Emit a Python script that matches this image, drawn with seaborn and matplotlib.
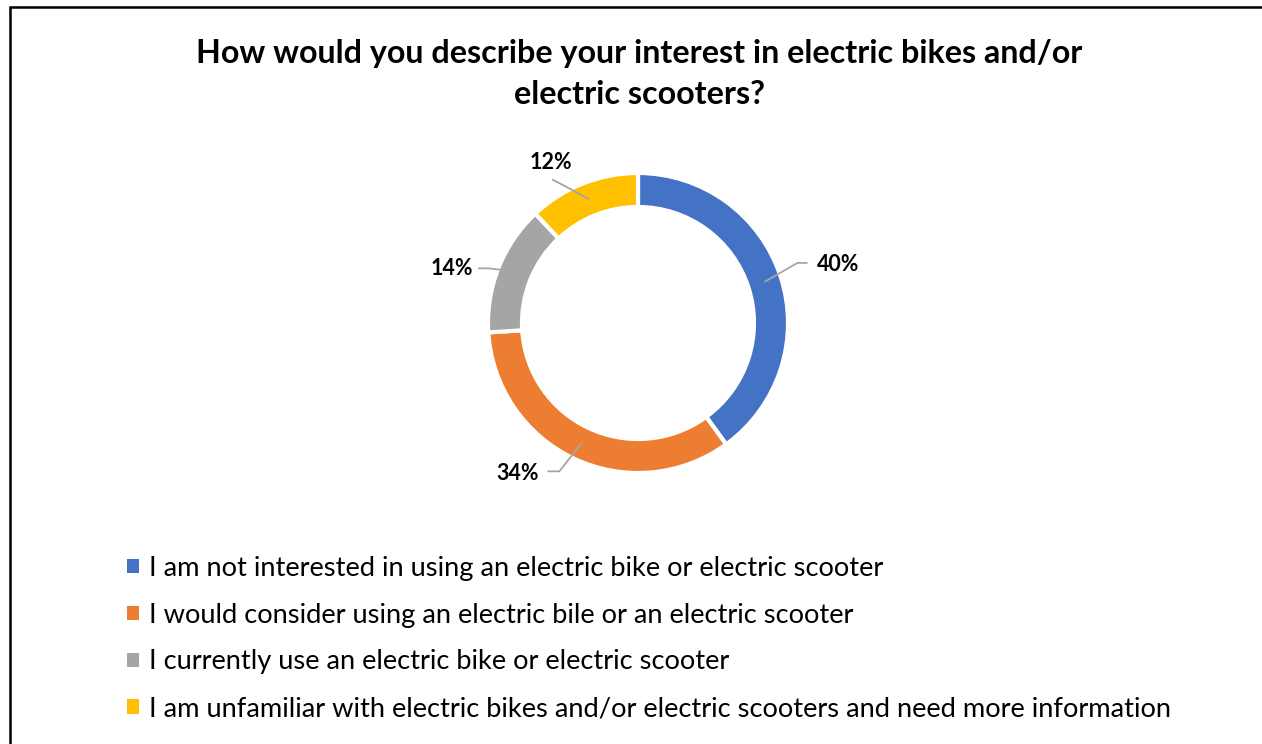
import numpy as np
import matplotlib
matplotlib.use("Agg")
import matplotlib.pyplot as plt
import seaborn as sns

# Survey responses
categories = [
    "I am not interested in using an electric bike or electric scooter",
    "I would consider using an electric bile or an electric scooter",
    "I currently use an electric bike or electric scooter",
    "I am unfamiliar with electric bikes and/or electric scooters and need more information",
]
shares = [40, 34, 14, 12]
pct_labels = ["40%", "34%", "14%", "12%"]
title = "How would you describe your interest in electric bikes and/or\nelectric scooters?"

sns.set_theme(style="white")
plt.rcParams["font.family"] = ["Lato", "DejaVu Sans"]
palette = sns.color_palette(["#4472C4", "#ED7D31", "#A5A5A5", "#FFC000"])

W, H = 1262, 744
fig = plt.figure(figsize=(W / 100, H / 100), dpi=100)
ax = fig.add_axes([0, 0, 1, 1])

# Donut in pixel-like coordinates (y measured upward)
cx, cy = 638, H - 323
R, ring = 150, 34
wedges, _ = ax.pie(
    shares, colors=palette, startangle=90, counterclock=False,
    center=(cx, cy), radius=R,
    wedgeprops=dict(width=ring, edgecolor="white", linewidth=3),
)
ax.set_xlim(0, W)
ax.set_ylim(0, H)
ax.set_aspect("equal")
ax.axis("off")

# Data labels with leader lines (offsets relative to anchor on the ring)
label_offsets = [  # (elbow dx, dy), (end dx, dy), text position (dx, dy), ha
    ((33, 19), (43, 19), (52, 17), "left"),
    ((-22, -28), (-34, -28), (-64, -30), "center"),
    ((-16, 2), (-27, 2), (-32, 2), "right"),
    ((-18, 10), (-37, 20), (-38, 37), "center"),
]
cum = np.cumsum([0] + shares[:-1])
for i, (s, c0) in enumerate(zip(shares, cum)):
    mid = 90 - 360 * (c0 + s / 2) / sum(shares)
    r_anchor = R - ring / 2 + (10 if i == 2 else 0)
    ax_ = cx + r_anchor * np.cos(np.radians(mid))
    ay_ = cy + r_anchor * np.sin(np.radians(mid))
    (ex, ey), (fx, fy), (tx, ty), ha = label_offsets[i]
    ax.plot([ax_, ax_ + ex, ax_ + fx], [ay_, ay_ + ey, ay_ + fy],
            color="#A6A6A6", lw=1.3, solid_capstyle="butt")
    ax.text(ax_ + tx, ay_ + ty, pct_labels[i], ha=ha, va="center",
            fontsize=15.5, fontweight="bold", color="#000000")

# Title
ax.text(639, H - 74, title, ha="center", va="center", fontsize=23.2,
        fontweight="bold", color="#000000", linespacing=1.5)

# Frame of the figure panel
ax.plot([10, 10], [0, H - 7], color="black", lw=1.8)
ax.plot([10, W], [H - 7, H - 7], color="black", lw=1.8)
ax.text(0, H + 11, "Figure 10", ha="left", va="center", fontsize=15,
        fontweight="bold", fontstyle="italic", color="black", clip_on=False)

# Legend
leg = fig.legend(
    wedges, categories, loc="upper left", bbox_to_anchor=(116 / W, 1 - 545 / H),
    frameon=False, fontsize=19.6, handlelength=0.44, handleheight=0.44,
    handletextpad=0.37, labelspacing=0.80, borderaxespad=0,
)
for h in leg.legend_handles:
    h.set_edgecolor("none")
for t in leg.get_texts():
    t.set_color("#000000")

fig.savefig("out.png", dpi=100)
